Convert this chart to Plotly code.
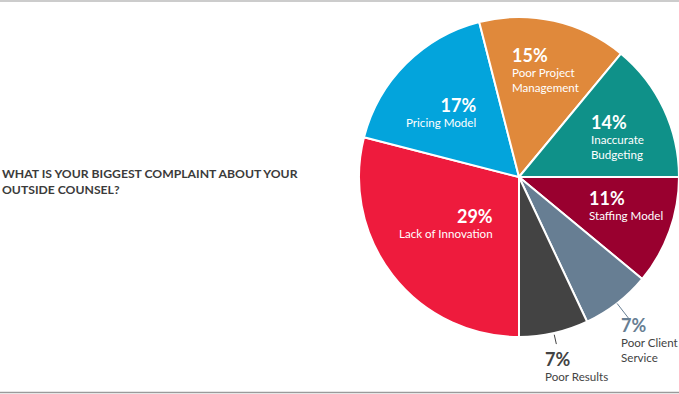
import math
import plotly.graph_objects as go

W, H = 679, 394

# ---- data ----
categories = ["Lack of Innovation", "Pricing Model", "Poor Project Management",
              "Inaccurate Budgeting", "Staffing Model", "Poor Client Service", "Poor Results"]
values = [29, 17, 15, 14, 11, 7, 7]
label_lines = ["Lack of Innovation", "Pricing Model", "Poor Project<br>Management",
               "Inaccurate<br>Budgeting", "Staffing Model", "Poor Client<br>Service", "Poor Results"]
title_text = "WHAT IS YOUR BIGGEST COMPLAINT ABOUT YOUR<br>OUTSIDE COUNSEL?"

# ---- style ----
colors = ["#EE1B3D", "#03A4DC", "#E0893B", "#0F9189", "#99002F", "#677E93", "#434343"]
pct_colors = ["white", "white", "white", "white", "white", "#677E93", "#434343"]
txt_colors = ["white", "white", "white", "white", "white", "#434343", "#434343"]
# label box placement in pixels: (x, y, xanchor, align)
label_pos = [
    (495, 222, "right", "right"),
    (478, 112, "right", "right"),
    (510, 69, "left", "left"),
    (589, 136, "left", "left"),
    (587, 205, "left", "left"),
    (619, 339, "left", "left"),
    (543, 365, "left", "left"),
]
cx, cy, R = 519, 177, 160
rotation = 180
FONT = "Lato"

fig = go.Figure()
fig.add_trace(go.Pie(
    labels=categories, values=values, sort=False, direction="clockwise",
    rotation=rotation, textinfo="none", hoverinfo="label+percent",
    marker=dict(colors=colors, line=dict(color="white", width=2)),
    domain=dict(x=[(cx - R) / W, (cx + R) / W], y=[1 - (cy + R) / H, 1 - (cy - R) / H]),
    showlegend=False,
))

annotations = []
for i, cat in enumerate(categories):
    x, y, xa, al = label_pos[i]
    txt = (f"<b><span style='font-size:18px;color:{pct_colors[i]}'>{values[i]}%</span></b>"
           f"<br><span style='color:{txt_colors[i]}'>{label_lines[i]}</span>")
    annotations.append(dict(
        x=x / W, y=1 - y / H, xref="paper", yref="paper", xanchor=xa, yanchor="middle",
        align=al, text=txt, showarrow=False, font=dict(family=FONT, size=11.6, color=txt_colors[i]),
    ))

annotations.append(dict(
    x=0, y=1 - 181 / H, xref="paper", yref="paper", xanchor="left", yanchor="middle",
    align="left", text=f"<b>{title_text}</b>", showarrow=False,
    font=dict(family=FONT, size=12.2, color="#3b3b3b"),
))

# leader lines for outside labels, derived from slice mid-angles
shapes = []
total = sum(values)
cum = 0
leader = {5: (1.0, 1.12), 6: (1.01, 1.07)}
for i, v in enumerate(values):
    mid = rotation + (cum + v / 2) / total * 360
    cum += v
    if i in leader:
        r0, r1 = leader[i]
        a = math.radians(mid)
        x0 = cx + r0 * R * math.sin(a); y0 = cy - r0 * R * math.cos(a)
        x1 = cx + r1 * R * math.sin(a); y1 = cy - r1 * R * math.cos(a)
        shapes.append(dict(type="line", xref="paper", yref="paper",
                           x0=x0 / W, y0=1 - y0 / H, x1=x1 / W, y1=1 - y1 / H,
                           line=dict(color=colors[i], width=1)))

shapes.append(dict(type="line", xref="paper", yref="paper", x0=0, x1=1,
                   y0=1 - 1 / H, y1=1 - 1 / H, line=dict(color="#cccccc", width=2)))
shapes.append(dict(type="line", xref="paper", yref="paper", x0=0, x1=1,
                   y0=1 - 392.5 / H, y1=1 - 392.5 / H, line=dict(color="#9a9a9a", width=1.5)))

fig.update_layout(
    width=W, height=H, margin=dict(l=0, r=0, t=0, b=0),
    paper_bgcolor="white", plot_bgcolor="white",
    annotations=annotations, shapes=shapes,
    font=dict(family=FONT),
)
fig.write_html("out.html", config={"displayModeBar": False},
               post_script="document.body.style.margin='0';document.body.style.overflow='hidden';")
